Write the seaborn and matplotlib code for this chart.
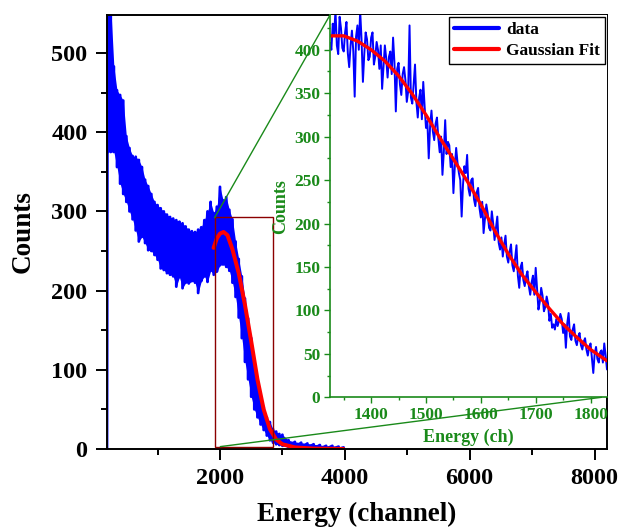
import numpy as np
import pandas as pd
import matplotlib
matplotlib.use("Agg")
import matplotlib.pyplot as plt
import seaborn as sns
from matplotlib.patches import Rectangle, ConnectionPatch
from matplotlib.lines import Line2D
from matplotlib.ticker import MultipleLocator, FixedLocator

# ---------------- data ----------------
# main spectrum: start of the spectrum, then upper / lower envelope of the noisy band
main_start_ch = [190]
main_start_val = [0]
main_ch = [200, 250, 300, 350, 400, 450, 500, 550, 600, 650, 700, 750, 800, 850,
           900, 950, 1000, 1050, 1100, 1150, 1200, 1250, 1300, 1350, 1400, 1450,
           1500, 1550, 1600, 1650, 1700, 1750, 1800, 1850, 1900, 1950, 2000, 2050,
           2100, 2150, 2200, 2250, 2300, 2350, 2400, 2450, 2500, 2550, 2600, 2650,
           2700, 2750, 2800, 2850, 2900, 2950, 3000, 3100, 3200, 3300, 3400, 3500,
           3600, 3700, 3800, 3900, 3980]
main_hi = [620, 560, 483, 453, 447, 440, 395, 380, 370, 369, 365, 356, 340, 332,
           322, 312, 308, 304, 300, 296, 293, 291, 289, 287, 285, 281,
           277, 275, 274, 277, 280, 289, 300, 312, 298, 306, 331, 314,
           318, 302, 290, 262, 240, 218, 190, 165, 140, 112, 88, 68,
           53, 40, 34, 25, 22, 19, 18, 11, 9, 8, 7, 6,
           5, 4, 4, 3, 2]
main_lo = [375, 375, 375, 356, 335, 322, 312, 300, 290, 276, 262, 268, 260, 251,
           250, 245, 239, 228, 226, 222, 220, 218, 205, 217, 203, 210,
           209, 212, 210, 197, 212, 218, 211, 225, 220, 224, 232, 233,
           230, 225, 210, 192, 166, 140, 110, 88, 66, 50, 40, 31,
           24, 17, 11, 8, 6, 5, 4, 2, 1, 1, 1, 0,
           0, 0, 0, 0, 0]

# main Gaussian fit
fit_ch = [1898, 1950, 2000, 2058, 2120, 2200, 2300, 2400, 2500, 2600, 2700,
          2800, 2900, 3000, 3200, 3500, 3980]
fit_val = [254, 266, 272, 274, 270, 252, 222, 182, 136, 88, 50,
           25, 12, 6, 2, 0.5, 0]

# inset data: readings on channels 1325, 1330, ... and on the half-steps between them
ins_ch_a = list(range(1325, 1831, 5))
ins_val_a = [408, 430, 445, 395, 425, 398, 432, 380, 422, 346, 428, 445, 363, 420,
             388, 414, 383, 409, 378, 355, 405, 368, 398, 414, 329, 385, 348, 380,
             340, 428, 338, 383, 322, 354, 363, 310, 275, 330, 296, 322, 282, 256,
             319, 294, 265, 235, 287, 258, 208, 266, 279, 232, 252, 220, 241, 207,
             189, 222, 195, 214, 181, 208, 170, 162, 186, 155, 176, 145, 175, 126,
             155, 128, 145, 118, 140, 149, 101, 126, 99, 116, 88, 80, 78, 82,
             96, 74, 57, 97, 66, 84, 60, 74, 55, 68, 48, 62, 28, 58, 40, 54,
             62, 32]
ins_ch_b = [c + 2.5 for c in range(1325, 1830, 5)]
ins_val_b = [400, 418, 405, 438, 402, 420, 396, 405, 398, 415, 400, 412, 395, 412,
             392, 420, 392, 400, 405, 380, 390, 392, 372, 385, 378, 360, 372, 365,
             352, 345, 360, 340, 345, 320, 335, 318, 312, 306, 315, 298, 300, 282,
             280, 290, 280, 265, 270, 250, 245, 258, 240, 250, 228, 236, 218, 225,
             205, 212, 192, 200, 195, 178, 184, 176, 162, 168, 152, 160, 140, 150,
             135, 139, 128, 132, 118, 125, 110, 117, 104, 108, 96, 84, 90, 88,
             90, 84, 85, 70, 78, 65, 70, 60, 64, 55, 58, 45, 50, 44, 52, 40, 48]
ins_fit_ch = [1325, 1350, 1375, 1400, 1425, 1450, 1475, 1500, 1525, 1550, 1575,
              1600, 1625, 1650, 1675, 1700, 1725, 1750, 1775, 1800, 1830]
ins_fit_val = [416, 416, 410, 400, 387, 370, 349, 325, 299, 274, 249,
               222, 192, 165, 141, 121, 102, 84, 69, 55, 42]

x_major = [2000, 4000, 6000, 8000]
ins_x_major = [1400, 1500, 1600, 1700, 1800]

# ---------------- style ----------------
sns.set_theme(style="ticks")
plt.rcParams['font.family'] = ['Liberation Serif', 'DejaVu Serif']
plt.rcParams['font.weight'] = 'bold'
plt.rcParams['axes.labelweight'] = 'bold'
for k in ['text.color', 'axes.labelcolor', 'xtick.color', 'ytick.color',
          'axes.edgecolor']:
    plt.rcParams[k] = 'black'

BLUE = '#0000ff'
RED = '#ff0000'
GREEN = '#1a8a1a'

fig = plt.figure(figsize=(6.21, 5.28), dpi=100)
W, H = 621, 528
ax = fig.add_axes([107 / W, 1 - 449 / H, 500 / W, 434 / H])

# zig-zag through the envelope values -> dense noisy band
zig_x = main_start_ch + [c for c in main_ch for _ in (0, 1)]
zig_y = main_start_val + [v for pair in zip(main_hi, main_lo) for v in pair]
df_main = pd.DataFrame({'ch': zig_x, 'counts': zig_y})
ax.fill_between(main_ch, main_lo, main_hi, color=BLUE, lw=0)
sns.lineplot(data=df_main, x='ch', y='counts', sort=False, estimator=None,
             color=BLUE, lw=2.0, ax=ax)
df_fit = pd.DataFrame({'ch': fit_ch, 'counts': fit_val})
sns.lineplot(data=df_fit, x='ch', y='counts', sort=False, estimator=None,
             color=RED, lw=2.9, ax=ax)

ax.set_xlim(190, 8200)
ax.set_ylim(0, 548)
ax.xaxis.set_major_locator(FixedLocator(x_major))
ax.xaxis.set_minor_locator(MultipleLocator(1000))
ax.yaxis.set_major_locator(MultipleLocator(100))
ax.yaxis.set_minor_locator(MultipleLocator(50))
ax.tick_params(which='major', direction='out', length=8, width=1.4,
               labelsize=17.5, pad=6, color='black', labelcolor='black')
ax.tick_params(which='minor', direction='out', length=4.5, width=1.4, color='black')
for lab in ax.get_xticklabels() + ax.get_yticklabels():
    lab.set_fontweight('bold')
for s in ax.spines.values():
    s.set_linewidth(1.4)
    s.set_color('black')
ax.set_xlabel('Energy (channel)', fontsize=19.5, fontweight='bold', labelpad=9,
              color='black')
ax.set_ylabel('Counts', fontsize=19.5, fontweight='bold', labelpad=11,
              color='black')

# zoom rectangle
ax.add_patch(Rectangle((1913, 3), 930, 290, fill=False, edgecolor='#8b0000',
                       lw=1.0, zorder=5))

# ---------------- inset ----------------
ax_in = fig.add_axes([330 / W, 1 - 397.3 / H, 277 / W, 382.3 / H])
ax_in.set_facecolor('white')
ins_x = [v for pair in zip(ins_ch_a, ins_ch_b) for v in pair] + [ins_ch_a[-1]]
ins_y = [v for pair in zip(ins_val_a, ins_val_b) for v in pair] + [ins_val_a[-1]]
df_in = pd.DataFrame({'ch': ins_x, 'counts': ins_y})
sns.lineplot(data=df_in, x='ch', y='counts', sort=False, estimator=None,
             color=BLUE, lw=1.4, ax=ax_in)
df_in_fit = pd.DataFrame({'ch': ins_fit_ch, 'counts': ins_fit_val})
sns.lineplot(data=df_in_fit, x='ch', y='counts', sort=False, estimator=None,
             color=RED, lw=2.4, ax=ax_in)
ax_in.set_xlim(1325, 1830)
ax_in.set_ylim(0, 440)
ax_in.xaxis.set_major_locator(FixedLocator(ins_x_major))
ax_in.xaxis.set_minor_locator(MultipleLocator(50))
ax_in.yaxis.set_major_locator(MultipleLocator(50))
ax_in.yaxis.set_minor_locator(MultipleLocator(25))
ax_in.tick_params(which='major', direction='out', length=4, width=1.0,
                  labelsize=12.5, pad=3, color=GREEN, labelcolor=GREEN)
ax_in.tick_params(which='minor', direction='out', length=2.5, width=1.0, color=GREEN)
for lab in ax_in.get_xticklabels() + ax_in.get_yticklabels():
    lab.set_fontweight('bold')
ax_in.spines['left'].set_color(GREEN)
ax_in.spines['bottom'].set_color(GREEN)
ax_in.spines['left'].set_linewidth(1.2)
ax_in.spines['bottom'].set_linewidth(1.2)
ax_in.spines['top'].set_visible(False)
ax_in.spines['right'].set_visible(False)
ax_in.set_xlabel('Energy (ch)', fontsize=13, fontweight='bold', color=GREEN, labelpad=4)
ax_in.set_ylabel('Counts', fontsize=13, fontweight='bold', color=GREEN, labelpad=4)

handles = [Line2D([], [], color=BLUE, lw=3), Line2D([], [], color=RED, lw=3)]
leg = ax_in.legend(handles, ['data', 'Gaussian Fit'], loc='upper right',
                   frameon=True, fancybox=False, edgecolor='black', framealpha=1,
                   borderaxespad=0.1, handlelength=2.6, handletextpad=0.4,
                   borderpad=0.3, labelspacing=0.25,
                   prop={'family': 'Liberation Serif', 'weight': 'bold', 'size': 12.5})
leg.get_frame().set_linewidth(1.0)
for t in leg.get_texts():
    t.set_color('black')

# connector lines
con1 = ConnectionPatch(xyA=(1913, 292), coordsA=ax.transData,
                       xyB=(0, 1), coordsB=ax_in.transAxes,
                       color=GREEN, lw=1.0, zorder=10)
con2 = ConnectionPatch(xyA=(2005, 3), coordsA=ax.transData,
                       xyB=(0.98, 0), coordsB=ax_in.transAxes,
                       color=GREEN, lw=1.0, zorder=10)
fig.add_artist(con1)
fig.add_artist(con2)

fig.savefig('out.png', dpi=100)
